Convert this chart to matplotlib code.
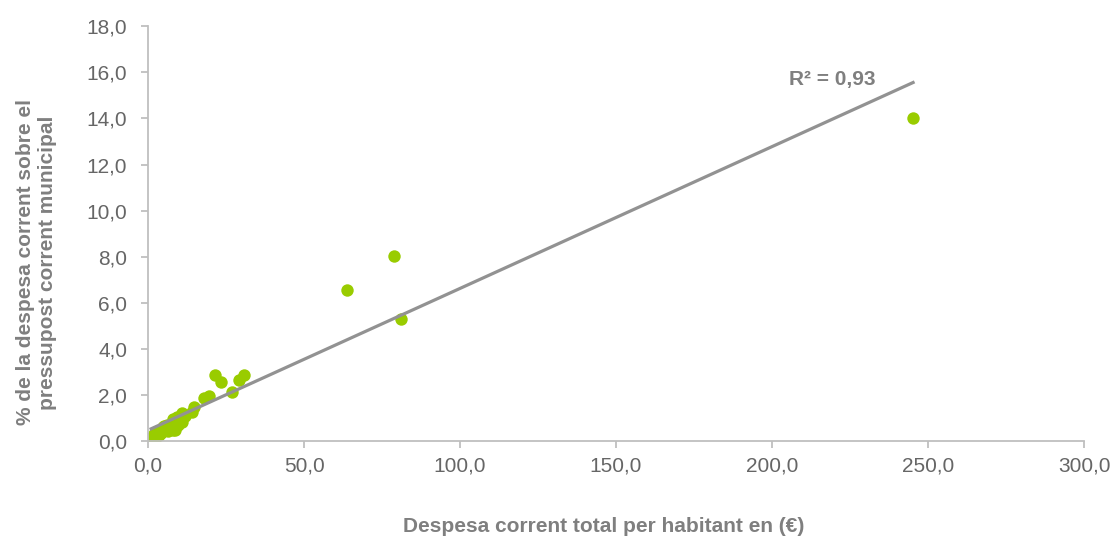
import numpy as np
from matplotlib import pyplot as plt
from matplotlib.ticker import FuncFormatter

plt.rcParams['font.family'] = ['Liberation Sans', 'DejaVu Sans']

despesa_hab = [245.2, 78.8, 63.8, 81.1, 30.8, 29.2, 21.5, 23.4, 26.9, 19.6, 17.9,
               14.7, 14.1, 10.9, 9.3, 8.0, 9.6, 8.0, 6.1, 4.8, 3.2, 1.6, 1.3,
               5.0, 2.0, 4.0, 7.0, 11.0, 12.0, 1.0, 2.5, 1.8, 3.5, 6.5, 8.5]
pct_pressupost = [14.0, 8.05, 6.55, 5.3, 2.85, 2.65, 2.85, 2.55, 2.12, 1.95, 1.88,
                  1.5, 1.25, 1.21, 1.04, 0.95, 0.69, 0.48, 0.69, 0.61, 0.39, 0.2, 0.1,
                  0.65, 0.25, 0.35, 0.55, 0.85, 1.1, 0.15, 0.2, 0.3, 0.25, 0.45, 0.5]
r2_label = "R² = 0,93"

gray = "#7f7f7f"

fig = plt.figure(figsize=(11.13, 5.36), dpi=100)
ax = fig.add_axes([0.133, 0.177, 0.841, 0.774])

x = np.array(despesa_hab)
y = np.array(pct_pressupost)

ax.scatter(x, y, s=80, color="#99cc00", zorder=2, linewidths=0)

# linear trendline
m, b = np.polyfit(x, y, 1)
xs = np.array([x.min(), x.max()])
ax.plot(xs, m * xs + b, color="#929292", lw=2.3, zorder=3)
ax.text(205.5, 15.7, r2_label, color=gray, fontsize=15, fontweight="bold",
        va="center", ha="left")

ax.set_xlim(0, 300)
ax.set_ylim(0, 18)
ax.set_xticks(np.arange(0, 301, 50))
ax.set_yticks(np.arange(0, 18.1, 2))
fmt = FuncFormatter(lambda v, p: f"{v:.1f}".replace(".", ","))
ax.xaxis.set_major_formatter(fmt)
ax.yaxis.set_major_formatter(fmt)

for s in ["top", "right"]:
    ax.spines[s].set_visible(False)
for s in ["left", "bottom"]:
    ax.spines[s].set_color("#bfbfbf")
    ax.spines[s].set_linewidth(1.3)

ax.tick_params(colors="#bfbfbf", labelcolor="#666666", labelsize=15, length=5, width=1.3)
ax.tick_params(axis="y", pad=10)
ax.tick_params(axis="x", pad=6)

ax.set_xlabel("Despesa corrent total per habitant en (€)", fontsize=15,
              fontweight="bold", color=gray)
ax.set_ylabel("% de la despesa corrent sobre el\npressupost corrent municipal",
              fontsize=15, fontweight="bold", color=gray)
ax.xaxis.set_label_coords(0.487, -0.183)
ax.yaxis.set_label_coords(-0.097, 0.431)

plt.savefig("out.png", dpi=100)
